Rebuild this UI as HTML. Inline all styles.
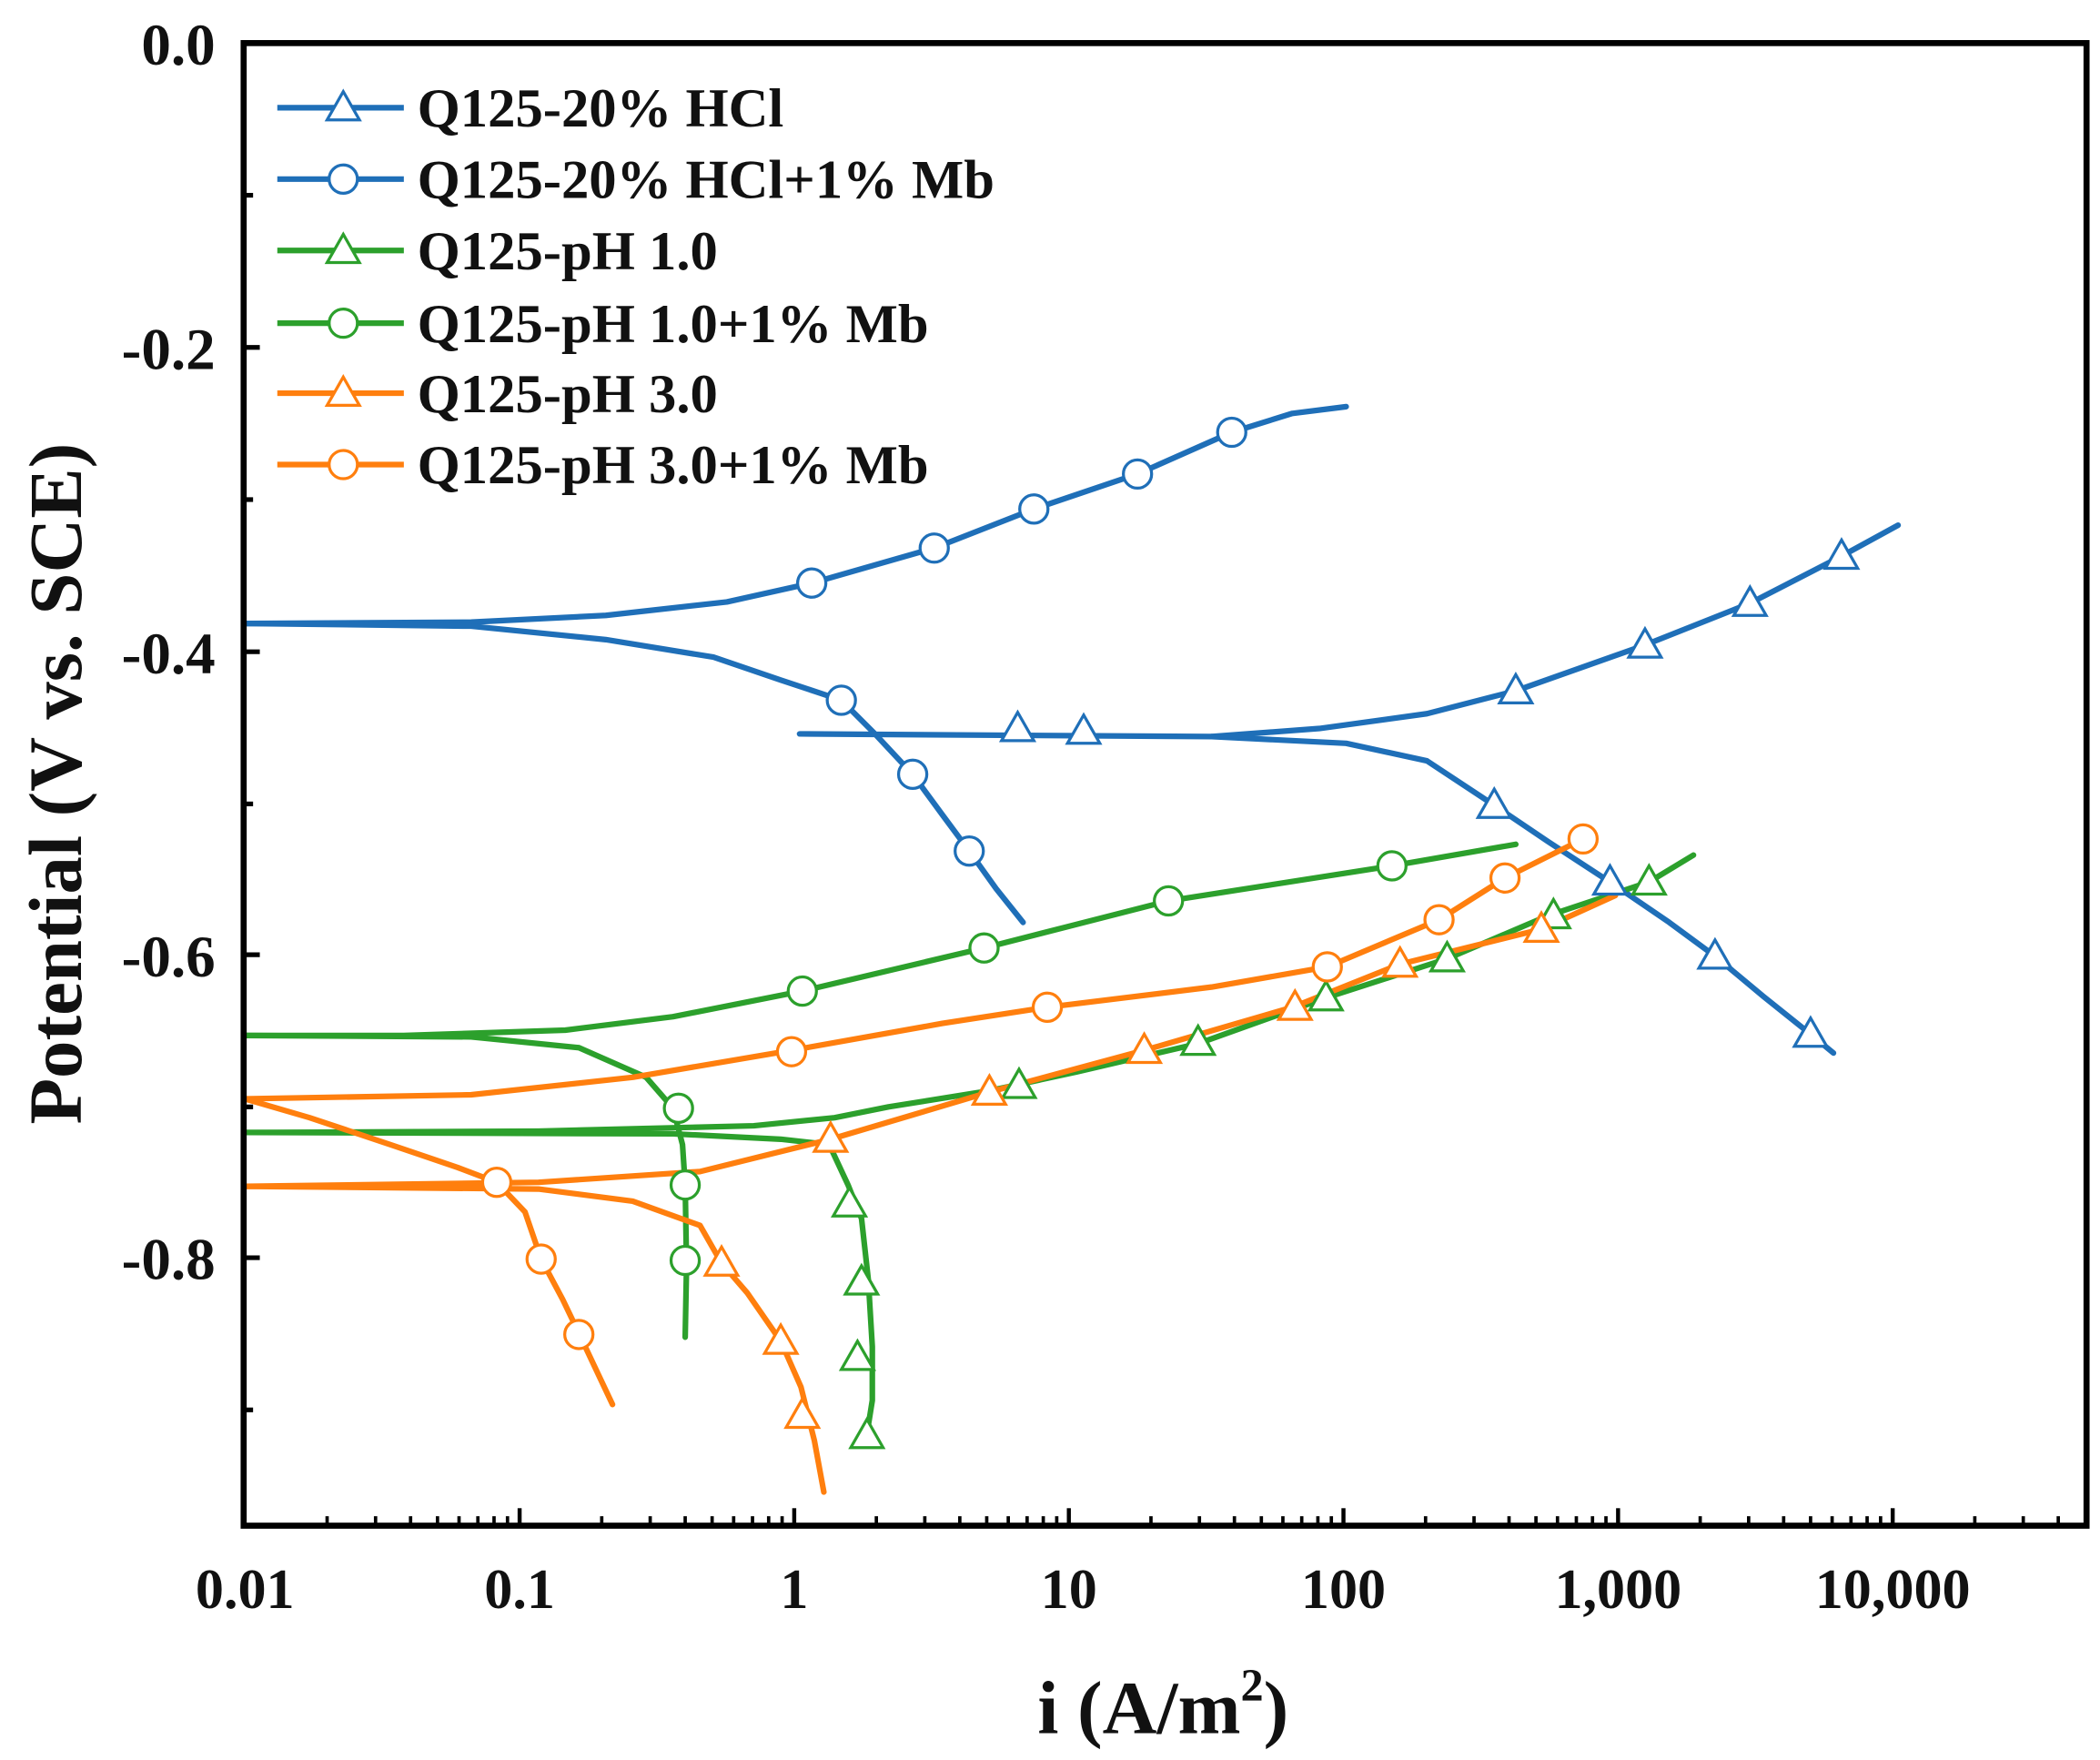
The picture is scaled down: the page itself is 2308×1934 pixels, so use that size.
<!DOCTYPE html>
<html><head><meta charset="utf-8"><style>
html,body{margin:0;padding:0;background:#fff;}
svg{display:block;}
text{font-family:"Liberation Serif",serif;font-weight:bold;fill:#111;}
</style></head><body>
<svg width="2308" height="1934" viewBox="0 0 1560 1307" preserveAspectRatio="none" xmlns="http://www.w3.org/2000/svg">
<defs>
<symbol id="tb" viewBox="-14 -14 28 28" overflow="visible"><polygon points="0,-12 12,9 -12,9" fill="#fff" stroke="#1f6fb8" stroke-width="2.2"/></symbol>
<symbol id="cb" viewBox="-14 -14 28 28" overflow="visible"><circle r="10.5" fill="#fff" stroke="#1f6fb8" stroke-width="2.2"/></symbol>
<symbol id="tg" viewBox="-14 -14 28 28" overflow="visible"><polygon points="0,-12 12,9 -12,9" fill="#fff" stroke="#2ca02c" stroke-width="2.2"/></symbol>
<symbol id="cg" viewBox="-14 -14 28 28" overflow="visible"><circle r="10.5" fill="#fff" stroke="#2ca02c" stroke-width="2.2"/></symbol>
<symbol id="to" viewBox="-14 -14 28 28" overflow="visible"><polygon points="0,-12 12,9 -12,9" fill="#fff" stroke="#ff7f0e" stroke-width="2.2"/></symbol>
<symbol id="co" viewBox="-14 -14 28 28" overflow="visible"><circle r="10.5" fill="#fff" stroke="#ff7f0e" stroke-width="2.2"/></symbol>
</defs>
<g fill="none" stroke-width="4.2" stroke-linejoin="round" stroke-linecap="round">
<polyline stroke="#1f6fb8" points="182,463 350,462 450,457 540,447 603,433 694,407 768,378 845,352 915,321 960,307 1000,302"/>
<polyline stroke="#1f6fb8" points="182,463 350,465 450,475 530,488 580,505 625,520 650,545 678,575 700,605 720,632 740,660 760,685"/>
<polyline stroke="#1f6fb8" points="594,545 900,547 980,541 1060,530 1126,513 1222,479 1300,448 1368,413 1410,390"/>
<polyline stroke="#1f6fb8" points="900,547 1000,552 1060,565 1110,598 1150,625 1196,655 1240,685 1274,710 1310,740 1345,768 1362,782"/>
<polyline stroke="#2ca02c" points="182,769 300,769 420,765 500,755 596,736 731,704 868,669 1034,643 1126,627"/>
<polyline stroke="#2ca02c" points="182,769 350,770 430,778 480,800 500,823 507,850 509,880 510,940 509,993"/>
<polyline stroke="#2ca02c" points="182,841 400,840 560,836 620,830 660,822 735,810 800,796 890,775 985,741 1075,712 1150,680 1225,655 1258,635"/>
<polyline stroke="#2ca02c" points="182,841 500,842 580,846 616,850 630,880 640,905 645,950 648,1000 648,1040 644,1065"/>
<polyline stroke="#ff7f0e" points="182,816 350,813 470,800 588,780 700,760 778,748 900,733 986,718 1069,683 1118,652 1176,623"/>
<polyline stroke="#ff7f0e" points="182,816 230,830 290,850 340,867 369,878 390,900 402,935 418,965 430,990 455,1043"/>
<polyline stroke="#ff7f0e" points="182,881 400,878 520,870 617,846 735,811 850,780 960,748 1040,716 1145,690 1200,665"/>
<polyline stroke="#ff7f0e" points="182,881 400,883 470,892 520,910 536,938 555,960 580,996 595,1030 605,1070 612,1108"/>
</g>
<g>
<use href="#cb" x="589" y="419" width="28" height="28"/><use href="#cb" x="680" y="393" width="28" height="28"/><use href="#cb" x="754" y="364" width="28" height="28"/><use href="#cb" x="831" y="338" width="28" height="28"/><use href="#cb" x="901" y="307" width="28" height="28"/>
<use href="#cb" x="611" y="506" width="28" height="28"/><use href="#cb" x="664" y="561" width="28" height="28"/><use href="#cb" x="706" y="618" width="28" height="28"/>
<use href="#tb" x="742" y="527" width="28" height="28"/><use href="#tb" x="791" y="529" width="28" height="28"/><use href="#tb" x="1112" y="499" width="28" height="28"/><use href="#tb" x="1208" y="465" width="28" height="28"/><use href="#tb" x="1286" y="434" width="28" height="28"/><use href="#tb" x="1354" y="399" width="28" height="28"/>
<use href="#tb" x="1096" y="584" width="28" height="28"/><use href="#tb" x="1182" y="641" width="28" height="28"/><use href="#tb" x="1260" y="696" width="28" height="28"/><use href="#tb" x="1331" y="754" width="28" height="28"/>
<use href="#cg" x="582" y="722" width="28" height="28"/><use href="#cg" x="717" y="690" width="28" height="28"/><use href="#cg" x="854" y="655" width="28" height="28"/><use href="#cg" x="1020" y="629" width="28" height="28"/>
<use href="#cg" x="490" y="809" width="28" height="28"/><use href="#cg" x="495" y="866" width="28" height="28"/><use href="#cg" x="495" y="922" width="28" height="28"/>
<use href="#tg" x="743" y="792" width="28" height="28"/><use href="#tg" x="876" y="760" width="28" height="28"/><use href="#tg" x="971" y="727" width="28" height="28"/><use href="#tg" x="1061" y="698" width="28" height="28"/><use href="#tg" x="1140" y="666" width="28" height="28"/><use href="#tg" x="1211" y="641" width="28" height="28"/>
<use href="#tg" x="617" y="880" width="28" height="28"/><use href="#tg" x="626" y="938" width="28" height="28"/><use href="#tg" x="623" y="994" width="28" height="28"/><use href="#tg" x="630" y="1052" width="28" height="28"/>
<use href="#co" x="574" y="767" width="28" height="28"/><use href="#co" x="764" y="734" width="28" height="28"/><use href="#co" x="972" y="704" width="28" height="28"/><use href="#co" x="1055" y="669" width="28" height="28"/><use href="#co" x="1104" y="638" width="28" height="28"/><use href="#co" x="1162" y="609" width="28" height="28"/>
<use href="#co" x="355" y="864" width="28" height="28"/><use href="#co" x="388" y="921" width="28" height="28"/><use href="#co" x="416" y="977" width="28" height="28"/>
<use href="#to" x="603" y="832" width="28" height="28"/><use href="#to" x="721" y="797" width="28" height="28"/><use href="#to" x="836" y="766" width="28" height="28"/><use href="#to" x="948" y="734" width="28" height="28"/><use href="#to" x="1026" y="702" width="28" height="28"/><use href="#to" x="1131" y="676" width="28" height="28"/>
<use href="#to" x="522" y="924" width="28" height="28"/><use href="#to" x="566" y="982" width="28" height="28"/><use href="#to" x="582" y="1037" width="28" height="28"/>
</g>
<g stroke-width="4.2">
<line x1="206" y1="80" x2="300" y2="80" stroke="#1f6fb8"/><line x1="206" y1="133" x2="300" y2="133" stroke="#1f6fb8"/>
<line x1="206" y1="186" x2="300" y2="186" stroke="#2ca02c"/><line x1="206" y1="240" x2="300" y2="240" stroke="#2ca02c"/>
<line x1="206" y1="292" x2="300" y2="292" stroke="#ff7f0e"/><line x1="206" y1="345" x2="300" y2="345" stroke="#ff7f0e"/>
</g>
<use href="#tb" x="241" y="66" width="28" height="28"/><use href="#cb" x="241" y="119" width="28" height="28"/>
<use href="#tg" x="241" y="172" width="28" height="28"/><use href="#cg" x="241" y="226" width="28" height="28"/>
<use href="#to" x="241" y="278" width="28" height="28"/><use href="#co" x="241" y="331" width="28" height="28"/>
<g font-size="41">
<text x="310" y="94">Q125-20% HCl</text>
<text x="310" y="147">Q125-20% HCl+1% Mb</text>
<text x="310" y="200">Q125-pH 1.0</text>
<text x="310" y="254">Q125-pH 1.0+1% Mb</text>
<text x="310" y="306">Q125-pH 3.0</text>
<text x="310" y="359">Q125-pH 3.0+1% Mb</text>
</g>
<rect x="181" y="32" width="1369" height="1101" fill="none" stroke="#000" stroke-width="4.5"/>
<g stroke="#000" stroke-width="3.5">
<line x1="181" y1="258" x2="193" y2="258"/><line x1="181" y1="484" x2="193" y2="484"/><line x1="181" y1="709" x2="193" y2="709"/><line x1="181" y1="934" x2="193" y2="934"/>
<line x1="181" y1="145" x2="188" y2="145"/><line x1="181" y1="371" x2="188" y2="371"/><line x1="181" y1="597" x2="188" y2="597"/><line x1="181" y1="822" x2="188" y2="822"/><line x1="181" y1="1047" x2="188" y2="1047"/>
</g>
<g stroke="#000" stroke-width="3">
<line x1="386" y1="1133" x2="386" y2="1120"/><line x1="590" y1="1133" x2="590" y2="1120"/><line x1="794" y1="1133" x2="794" y2="1120"/><line x1="998" y1="1133" x2="998" y2="1120"/><line x1="1202" y1="1133" x2="1202" y2="1120"/><line x1="1406" y1="1133" x2="1406" y2="1120"/>
</g>
<g stroke="#000" stroke-width="2.5">
<path d="M243,1133v-7M279,1133v-7M305,1133v-7M325,1133v-7M341,1133v-7M355,1133v-7M367,1133v-7M377,1133v-7
M447,1133v-7M483,1133v-7M509,1133v-7M529,1133v-7M545,1133v-7M559,1133v-7M571,1133v-7M581,1133v-7
M651,1133v-7M687,1133v-7M713,1133v-7M733,1133v-7M749,1133v-7M763,1133v-7M775,1133v-7M785,1133v-7
M855,1133v-7M891,1133v-7M917,1133v-7M937,1133v-7M953,1133v-7M967,1133v-7M979,1133v-7M989,1133v-7
M1059,1133v-7M1095,1133v-7M1121,1133v-7M1141,1133v-7M1157,1133v-7M1171,1133v-7M1183,1133v-7M1193,1133v-7
M1263,1133v-7M1299,1133v-7M1325,1133v-7M1345,1133v-7M1361,1133v-7M1375,1133v-7M1387,1133v-7M1397,1133v-7
M1467,1133v-7M1503,1133v-7M1529,1133v-7"/>
</g>
<g font-size="44" text-anchor="end">
<text x="160" y="48">0.0</text><text x="160" y="274">-0.2</text><text x="160" y="500">-0.4</text><text x="160" y="725">-0.6</text><text x="160" y="950">-0.8</text>
</g>
<g font-size="42" text-anchor="middle">
<text x="182" y="1194">0.01</text><text x="386" y="1194">0.1</text><text x="590" y="1194">1</text><text x="794" y="1194">10</text><text x="998" y="1194">100</text><text x="1202" y="1194">1,000</text><text x="1406" y="1194">10,000</text>
</g>
<text x="864" y="1287" font-size="56" text-anchor="middle">i (A/m<tspan font-size="34" dy="-24">2</tspan><tspan dy="24">)</tspan></text>
<text transform="translate(60,582) rotate(-90)" font-size="56" text-anchor="middle">Potential (V vs. SCE)</text>
</svg>
</body></html>
